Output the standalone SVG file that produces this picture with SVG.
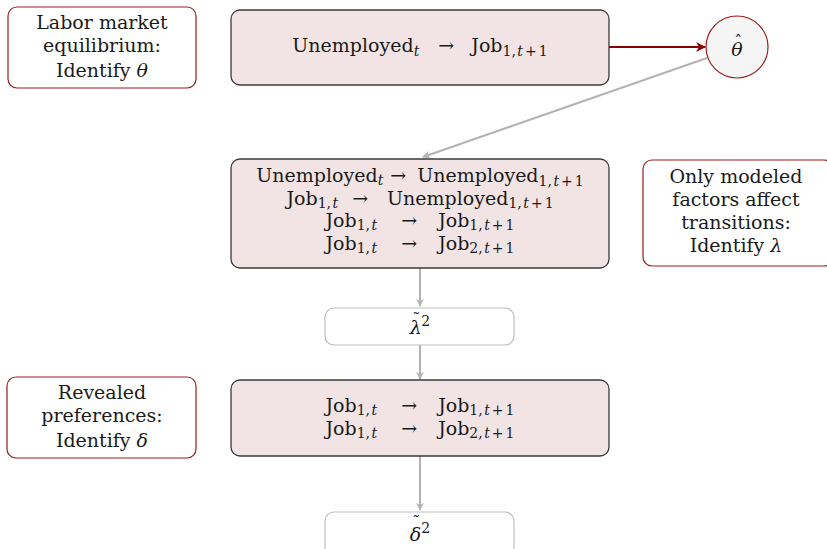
<svg xmlns="http://www.w3.org/2000/svg" width="827" height="549" viewBox="0 0 827 549">
<style>
text{font-family:"DejaVu Serif","Liberation Serif",serif;font-size:19px;fill:#1a1a1a;text-anchor:middle}
.m{font-style:italic}
.s{font-size:14px}
.acc{font-size:16px;font-style:normal}
.note{fill:#fff;stroke:#9b1c1c;stroke-width:1.2}
.main{fill:#f2e4e4;stroke:#3a3a3a;stroke-width:1.3}
.res{fill:#fff;stroke:#bdbdbd;stroke-width:1.2}
.g{stroke:#b3b3b3;stroke-width:2;fill:none}
</style>
<defs>
<marker id="ag" viewBox="0 0 10 10" refX="9" refY="5" markerWidth="8" markerHeight="8" orient="auto" markerUnits="userSpaceOnUse">
<path d="M0,0 L10,5 L0,10 L3,5 Z" fill="#b3b3b3"/>
</marker>
<marker id="ar" viewBox="0 0 10 10" refX="9" refY="5" markerWidth="10" markerHeight="10" orient="auto" markerUnits="userSpaceOnUse">
<path d="M0,0 L10,5 L0,10 L3,5 Z" fill="#8b0000"/>
</marker>
</defs>
<g id="connectors">
<line x1="609" y1="47" x2="705" y2="47" stroke="#8b0000" stroke-width="2.2" marker-end="url(#ar)"/>
<line x1="707" y1="58" x2="423" y2="157" class="g" marker-end="url(#ag)"/>
<line x1="420" y1="268" x2="420" y2="306" class="g" marker-end="url(#ag)"/>
<line x1="420" y1="345" x2="420" y2="379" class="g" marker-end="url(#ag)"/>
<line x1="420" y1="456" x2="420" y2="510" class="g" marker-end="url(#ag)"/>
</g>
<g id="labor">
<rect class="note" x="8" y="7" width="188" height="81" rx="9"/>
<text x="102" y="29">Labor market</text>
<text x="102" y="52">equilibrium:</text>
<text x="102" y="77">Identify <tspan class="m">θ</tspan></text>
</g>
<g id="trans1">
<rect class="main" x="231" y="10" width="378" height="75" rx="9"/>
<text x="420" y="52">Unemployed<tspan class="s m" dy="4">t</tspan><tspan dy="-4" dx="19">→</tspan><tspan dx="17">Job</tspan><tspan class="s" dy="4">1,<tspan class="m" dx="1.5">t</tspan><tspan dx="2">+</tspan><tspan dx="2">1</tspan></tspan></text>
</g>
<g id="theta">
<circle cx="737" cy="47" r="31" fill="#f5f5f5" stroke="#9b1c1c" stroke-width="1.2"/>
<text x="737" y="56"><tspan class="m">θ</tspan><tspan class="acc" dx="-8.5" dy="-9">ˆ</tspan></text>
</g>
<g id="trans2">
<rect class="main" x="231" y="159" width="378" height="109" rx="9"/>
<text x="420" y="182">Unemployed<tspan class="s m" dy="3">t</tspan><tspan dy="-3" dx="7">→</tspan><tspan dx="11">Unemployed</tspan><tspan class="s" dy="4">1,<tspan class="m" dx="1.5">t</tspan><tspan dx="2">+</tspan><tspan dx="2">1</tspan></tspan></text>
<text x="420" y="205">Job<tspan class="s" dy="3">1,<tspan class="m" dx="1.5">t</tspan></tspan><tspan dy="-3" dx="14">→</tspan><tspan dx="19">Unemployed</tspan><tspan class="s" dy="3">1,<tspan class="m" dx="1.5">t</tspan><tspan dx="2">+</tspan><tspan dx="2">1</tspan></tspan></text>
<text x="420" y="227">Job<tspan class="s" dy="3">1,<tspan class="m" dx="1.5">t</tspan></tspan><tspan dy="-3" dx="24">→</tspan><tspan dx="21">Job</tspan><tspan class="s" dy="3">1,<tspan class="m" dx="1.5">t</tspan><tspan dx="2">+</tspan><tspan dx="2">1</tspan></tspan></text>
<text x="420" y="250">Job<tspan class="s" dy="3">1,<tspan class="m" dx="1.5">t</tspan></tspan><tspan dy="-3" dx="24">→</tspan><tspan dx="21">Job</tspan><tspan class="s" dy="3">2,<tspan class="m" dx="1.5">t</tspan><tspan dx="2">+</tspan><tspan dx="2">1</tspan></tspan></text>
</g>
<g id="modeled">
<rect class="note" x="643" y="160" width="190" height="106" rx="9"/>
<text x="736" y="183">Only modeled</text>
<text x="736" y="206">factors affect</text>
<text x="736" y="229">transitions:</text>
<text x="736" y="252">Identify <tspan class="m">λ</tspan></text>
</g>
<g id="lambda">
<rect class="res" x="325" y="308" width="189" height="37" rx="9"/>
<text x="420" y="334"><tspan class="m">λ</tspan><tspan class="acc" dx="-9.5" dy="-9">˜</tspan><tspan class="s" dx="1" dy="1">2</tspan></text>
</g>
<g id="revealed">
<rect class="note" x="7" y="377" width="189" height="81" rx="9"/>
<text x="102" y="399">Revealed</text>
<text x="102" y="422">preferences:</text>
<text x="102" y="447">Identify <tspan class="m">δ</tspan></text>
</g>
<g id="trans3">
<rect class="main" x="231" y="380" width="378" height="76" rx="9"/>
<text x="420" y="412">Job<tspan class="s" dy="3">1,<tspan class="m" dx="1.5">t</tspan></tspan><tspan dy="-3" dx="24">→</tspan><tspan dx="21">Job</tspan><tspan class="s" dy="3">1,<tspan class="m" dx="1.5">t</tspan><tspan dx="2">+</tspan><tspan dx="2">1</tspan></tspan></text>
<text x="420" y="435">Job<tspan class="s" dy="3">1,<tspan class="m" dx="1.5">t</tspan></tspan><tspan dy="-3" dx="24">→</tspan><tspan dx="21">Job</tspan><tspan class="s" dy="3">2,<tspan class="m" dx="1.5">t</tspan><tspan dx="2">+</tspan><tspan dx="2">1</tspan></tspan></text>
</g>
<g id="delta">
<rect class="res" x="325" y="512" width="189" height="45" rx="9"/>
<text x="420" y="541"><tspan class="m">δ</tspan><tspan class="acc" dx="-9" dy="-13">˜</tspan><tspan class="s" dx="1" dy="5">2</tspan></text>
</g>
</svg>
